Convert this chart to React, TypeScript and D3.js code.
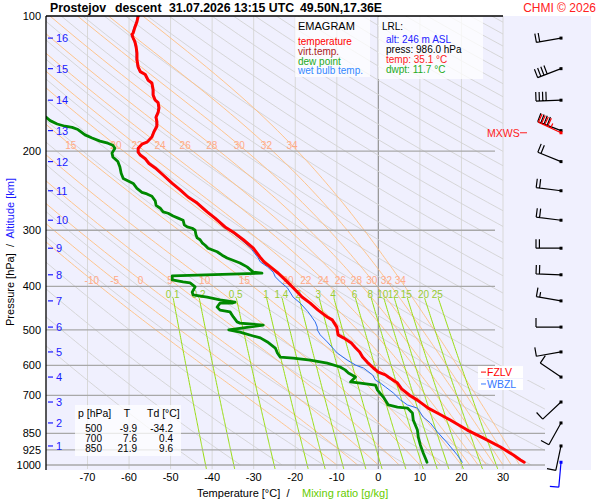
import * as d3 from 'd3';

const FONT = 'Liberation Sans, Arial, Helvetica, sans-serif';

// axis / grid values
const pressureTicks = [100, 200, 300, 400, 500, 600, 700, 850, 925, 1000];
const temperatureTicks = [-70, -60, -50, -40, -30, -20, -10, 0, 10, 20, 30];
const mixingRatios = [0.1, 0.2, 0.5, 1, 1.4, 2, 3, 4, 6, 8, 10, 12, 15, 20, 25];
const moistAdiabats = [-10, -5, 0, 5, 10, 15, 20, 22, 24, 26, 28, 30, 32, 34];
const heightKm = [1, 2, 3, 4, 5, 6, 7, 8, 9, 10, 11, 12, 13, 14, 15, 16];
const heightP = [907, 806, 724, 637, 560, 493, 431, 377, 329, 285, 245, 211, 180, 154, 131, 112];

// sounding: [pressure hPa, °C]
const temperature: [number, number][] = [
  [986, 35.1], [975, 34.2], [950, 32.5], [912, 29.4], [871, 25.3], [836, 21.4],
  [794, 17.3], [766, 14.2], [747, 12.0], [717, 9.4], [700, 7.6], [677, 5.6],
  [657, 4.6], [637, 2.4], [630, 1.7], [621, 0.0], [608, -1.2], [590, -2.7],
  [575, -3.8], [560, -4.5], [548, -5.5], [535, -6.5], [521, -8.4], [513, -9.7],
  [500, -9.9], [493, -10.0], [475, -11.1], [468, -12.3], [452, -14.5], [436, -16.4],
  [423, -18.3], [403, -20.5], [387, -22.4], [374, -24.1], [362, -26.0], [353, -27.5],
  [346, -28.3], [329, -30.1], [315, -32.5], [303, -34.9], [295, -36.9], [282, -39.3],
  [273, -41.2], [261, -43.6], [253, -45.8], [244, -47.7], [236, -49.6], [226, -51.8],
  [218, -53.7], [213, -55.2], [208, -56.1], [204, -57.3], [201, -57.8], [197, -57.8],
  [193, -56.9], [191, -55.7], [186, -54.5], [181, -54.0], [176, -53.3], [172, -53.3],
  [168, -53.5], [164, -53.0], [160, -52.8], [156, -53.0], [154, -53.7], [150, -54.2],
  [146, -54.2], [141, -54.5], [139, -55.4], [135, -56.1], [133, -57.3], [130, -57.8],
  [125, -58.1], [121, -58.1], [117, -58.3], [114, -58.6], [112, -59.0], [110, -59.3],
  [109, -59.0], [106, -58.6], [103, -58.1], [100, -57.8],
];

const dewPoint: [number, number][] = [
  [986, 11.7], [975, 11.5], [940, 10.8], [902, 10.1], [866, 9.6], [836, 9.4],
  [794, 8.4], [766, 8.2], [747, 7.0], [743, 4.6], [735, 2.4], [706, 1.2],
  [681, -0.2], [664, -0.7], [657, -4.3], [653, -6.7], [637, -5.5], [624, -7.2],
  [614, -8.0], [605, -9.2], [593, -12.3], [584, -16.4], [578, -20.5], [575, -23.6],
  [563, -24.3], [549, -24.8], [532, -26.7], [521, -28.4], [516, -30.1], [506, -33.3],
  [500, -36.0], [488, -27.7], [483, -33.3], [480, -34.0], [468, -34.9], [456, -35.7],
  [452, -38.1], [445, -38.8], [436, -38.1], [436, -35.2], [434, -34.5], [429, -38.1],
  [423, -41.2], [418, -44.6], [412, -44.8], [401, -44.1], [393, -45.3], [391, -47.0],
  [387, -49.6], [379, -49.6], [374, -28.0], [372, -30.1], [362, -31.6], [355, -33.3],
  [346, -36.4], [341, -37.6], [335, -38.8], [329, -41.0], [324, -41.7], [320, -42.4],
  [315, -42.9], [312, -43.6], [307, -43.9], [300, -44.1], [297, -44.8], [295, -46.0],
  [292, -46.7], [285, -47.0], [282, -48.2], [279, -49.4], [275, -50.6], [273, -51.8],
  [268, -52.5], [264, -53.5], [258, -53.7], [252, -54.5], [249, -55.7], [247, -56.9],
  [242, -58.1], [236, -59.0], [233, -60.2], [230, -61.4], [224, -61.9], [217, -62.2],
  [211, -62.7], [206, -63.9], [202, -64.1], [197, -63.4], [194, -63.9], [192, -65.1],
  [190, -67.0], [187, -68.9], [184, -70.6], [179, -72.3], [177, -73.7], [176, -75.4],
  [174, -77.3], [171, -79.0], [168, -80.0], [160, -84.0],
];

const wetBulb: [number, number][] = [
  [986, 20.2], [950, 19.0], [893, 16.6], [844, 14.2], [806, 12.5], [782, 10.8],
  [747, 9.4], [735, 7.0], [716, 5.3], [691, 3.6], [670, 1.7], [657, 0.5],
  [647, -0.7], [630, -1.4], [608, -3.6], [599, -5.5], [584, -7.5], [563, -9.9],
  [532, -12.3], [513, -14.0], [500, -14.7], [493, -14.7], [480, -15.2], [456, -16.9],
  [436, -18.8], [423, -20.5], [403, -21.9], [391, -23.6], [381, -24.8], [372, -25.3],
  [362, -26.7], [353, -28.4], [346, -28.9], [329, -30.7], [315, -33.0], [303, -35.3],
  [295, -37.3], [282, -39.6], [273, -41.5], [261, -43.9], [253, -46.0], [244, -47.9],
  [236, -49.8], [226, -52.0], [218, -53.9], [213, -55.4], [208, -56.3], [204, -57.5],
  [201, -58.0], [197, -58.0], [193, -57.1], [191, -55.9], [186, -54.7], [181, -54.2],
  [176, -53.5], [172, -53.5], [168, -53.7], [164, -53.2], [160, -53.0], [156, -53.2],
  [154, -53.9], [150, -54.4], [146, -54.4], [141, -54.7], [139, -55.6], [135, -56.3],
  [133, -57.5], [130, -58.0], [125, -58.3], [121, -58.3], [117, -58.5], [114, -58.8],
  [112, -59.2], [110, -59.5], [109, -59.2], [106, -58.8], [103, -58.3], [100, -58.0],
];

// winds at the km levels (direction deg, speed kt)
const windDir = [192, 209, 227, 304, 260, 270, 280, 272, 270, 277, 277, 292, 291, 268, 249, 260];
const windKt = [10, 10, 10, 10, 10, 10, 15, 20, 20, 20, 20, 20, 40, 40, 40, 20];
const surfaceWind = { p: 986, dir: 185, kt: 10 };
const maxWind = { p: 182, dir: 295, kt: 45 };
const freezingLevelP = 621;
const wetBulbZeroP = 660;

const tableRows = [
  ['500', '-9.9', '-34.2'],
  ['700', '7.6', '0.4'],
  ['850', '21.9', '9.6'],
];

// thermodynamics for the background lines
const Rd = 287.04;
const Cp = 1005.7;
const Lv = 2.501e6;
const EPS = 0.622;
const esat = (tc: number) => 6.112 * Math.exp((17.67 * tc) / (tc + 243.5));
const moistLapse = (tk: number, p: number) => {
  const e = esat(tk - 273.15);
  const ws = (EPS * e) / (p - e);
  return (Rd * tk + Lv * ws) / (p * (Cp + (Lv * Lv * ws * EPS) / (Rd * tk * tk)));
};
const moistCurve = (tw: number) => {
  const pts: [number, number][] = [];
  let t = tw + 273.15;
  for (let p = 1000; p >= 100; p -= 5) {
    pts.push([p, t - 273.15]);
    const k1 = moistLapse(t, p);
    const k2 = moistLapse(t - k1 * 5, p - 5);
    t -= ((k1 + k2) / 2) * 5;
  }
  return pts;
};
const dryCurve = (theta: number) =>
  d3.range(1000, 99, -10).map((p) => [p, theta * Math.pow(p / 1000, 0.2857) - 273.15] as [number, number]);
const mixingTd = (w: number, p: number) => {
  const l = Math.log((w * p) / (622 + w) / 6.112);
  return (243.5 * l) / (17.67 - l);
};
const tAt = (pts: [number, number][], p: number) => {
  for (let i = 0; i < pts.length - 1; i++) {
    if (pts[i][0] >= p && pts[i + 1][0] <= p) {
      const f = (pts[i][0] - p) / (pts[i][0] - pts[i + 1][0]);
      return pts[i][1] + f * (pts[i + 1][1] - pts[i][1]);
    }
  }
  return NaN;
};

const barbPath = (cx: number, cy: number, dir: number, kt: number) => {
  const r = (dir * Math.PI) / 180;
  const dx = Math.sin(r);
  const dy = -Math.cos(r);
  const ex = cx + dx * 25;
  const ey = cy + dy * 25;
  let d = `M${cx},${cy}L${ex},${ey}`;
  const px = -dy;
  const py = dx;
  let pos = 0;
  for (let i = 0; i < Math.floor(kt / 10); i++) {
    const bx = ex - dx * pos;
    const by = ey - dy * pos;
    d += `M${bx},${by}l${px * 9},${py * 9}`;
    pos += 3.4;
  }
  if (kt % 10 >= 5) {
    const bx = ex - dx * pos;
    const by = ey - dy * pos;
    d += `M${bx},${by}l${px * 5},${py * 5}`;
  }
  return d;
};

export default function App() {
  const x = d3.scaleLinear().domain([-70, 30]).range([87.5, 503]);
  const y = d3.scaleLog().domain([100, 1000]).range([16, 465]);
  const line = d3
    .line<[number, number]>()
    .x((d) => x(d[1]))
    .y((d) => y(d[0]));

  const moist = moistAdiabats.map((tw) => ({ tw, pts: moistCurve(tw) }));
  const dry = d3.range(230, 620, 10).map((th) => dryCurve(th));
  const barbX = 561;

  return (
    <svg
      width={600}
      height={500}
      style={{ position: 'absolute', left: 0, top: 0, background: '#fff' }}
      fontFamily={FONT}
    >
      <defs>
        <clipPath id="grid">
          <path d="M46,16H503V380H545V469H46Z" />
        </clipPath>
        <clipPath id="plot">
          <rect x={46} y={16} width={545} height={453} />
        </clipPath>
      </defs>

      <rect x={46} y={16} width={545} height={454} fill="#f0f0fe" />

      {/* isotherms */}
      {temperatureTicks.map((t) => (
        <line
          key={t}
          x1={x(t)}
          x2={x(t)}
          y1={16}
          y2={469}
          stroke={t === 0 ? '#999' : '#d8d8d8'}
          strokeWidth={t === 0 ? 1.3 : 1}
        />
      ))}

      <g clipPath="url(#grid)" fill="none">
        {dry.map((pts, i) => (
          <path key={i} d={line(pts) ?? ''} stroke="#d2d2d2" strokeWidth={0.9} />
        ))}
        {moist.map((m) => (
          <path key={m.tw} d={line(m.pts) ?? ''} stroke="#ffc080" strokeWidth={0.9} />
        ))}
        {mixingRatios.map((w) => (
          <path
            key={w}
            d={line(d3.range(1025, 420, -5).map((p) => [p, mixingTd(w, p)] as [number, number])) ?? ''}
            stroke="#99dd11"
            strokeWidth={1}
          />
        ))}
      </g>

      {/* isobars */}
      {pressureTicks.slice(1).map((p) => (
        <line
          key={p}
          x1={46}
          x2={p >= 850 ? 545 : 495}
          y1={y(p)}
          y2={y(p)}
          stroke="#a8a8a8"
          strokeWidth={1.3}
        />
      ))}

      {/* moist adiabat labels */}
      <g fontSize={10} fill="#ffaa88" textAnchor="middle">
        {moist
          .filter((m) => x(tAt(m.pts, 194)) > 60)
          .map((m) => (
            <text key={'a' + m.tw} x={x(tAt(m.pts, 194))} y={149}>
              {m.tw}
            </text>
          ))}
        {moist.map((m) => (
          <text key={'b' + m.tw} x={x(tAt(m.pts, 387))} y={284}>
            {m.tw}
          </text>
        ))}
      </g>
      <g fontSize={10} fill="#99cc33" textAnchor="middle">
        {mixingRatios.map((w) => (
          <text key={w} x={x(mixingTd(w, 418))} y={298}>
            {w}
          </text>
        ))}
      </g>

      {/* profiles */}
      <g clipPath="url(#plot)" fill="none" strokeLinejoin="round" strokeLinecap="round">
        <path d={line(dewPoint) ?? ''} stroke="#008800" strokeWidth={2.8} />
        <path d={line(wetBulb) ?? ''} stroke="#2a6df0" strokeWidth={1} />
        <path d={line(temperature) ?? ''} stroke="#ff0000" strokeWidth={3} />
      </g>

      {/* frame */}
      <line x1={46} x2={503} y1={16} y2={16} stroke="#000" strokeWidth={1.3} />
      <line x1={46} x2={46} y1={16} y2={470} stroke="#000" strokeWidth={1.3} />

      {/* pressure labels */}
      <g fontSize={11} textAnchor="end">
        {pressureTicks.map((p) => (
          <text key={p} x={41} y={y(p) + 4}>
            {p}
          </text>
        ))}
      </g>
      {/* altitude labels */}
      <g fontSize={11} fill="#1a1aff">
        {heightKm.map((h, i) => (
          <g key={h}>
            <line x1={48} x2={53} y1={y(heightP[i])} y2={y(heightP[i])} stroke="#1a1aff" strokeWidth={1.2} />
            <text x={56} y={y(heightP[i]) + 4}>
              {h}
            </text>
          </g>
        ))}
      </g>
      {/* temperature labels */}
      <g fontSize={11} textAnchor="middle">
        {temperatureTicks.map((t) => (
          <text key={t} x={x(t)} y={481}>
            {t}
          </text>
        ))}
      </g>

      <text fontSize={11} y={497} xmlSpace="preserve">
        <tspan x={197}>Temperature [°C]  /</tspan>
        <tspan x={302} fill="#66cc00">
          Mixing ratio [g/kg]
        </tspan>
      </text>
      <text fontSize={11} transform="translate(14,252) rotate(-90)" textAnchor="middle" xmlSpace="preserve">
        Pressure [hPa]  /  <tspan fill="#1a1aff">Altitude [km]</tspan>
      </text>

      {/* title */}
      <g fontSize={12.3} fontWeight="bold">
        <text x={50} y={12}>Prostejov</text>
        <text x={115} y={12}>descent</text>
        <text x={169} y={12}>31.07.2026 13:15 UTC</text>
        <text x={300} y={12}>49.50N,17.36E</text>
      </g>
      <text x={596} y={12} fontSize={12} fill="#ff2020" textAnchor="end">
        CHMI © 2026
      </text>

      {/* legend */}
      <rect x={295} y={17} width={75} height={60} fill="#fff" fillOpacity={0.75} />
      <g fontSize={10}>
        <text x={298} y={30} fontSize={11}>EMAGRAM</text>
        <text x={298} y={45} fill="#ff0000">temperature</text>
        <text x={298} y={55} fill="#aa2222">virt.temp.</text>
        <text x={298} y={64.5} fill="#22aa22">dew point</text>
        <text x={298} y={74} fill="#3388ff">wet bulb temp.</text>
      </g>
      <rect x={378} y={17} width={105} height={62} fill="#fff" fillOpacity={0.75} />
      <g fontSize={10}>
        <text x={382} y={30}>LRL:</text>
        <text x={386} y={42.5} fill="#2222ff">alt: 246 m ASL</text>
        <text x={386} y={53}>press: 986.0 hPa</text>
        <text x={386} y={63} fill="#ff2020">temp: 35.1 °C</text>
        <text x={386} y={72.5} fill="#22aa22">dwpt: 11.7 °C</text>
      </g>

      {/* table */}
      <rect x={75} y={405} width={106} height={51} fill="#fff" fillOpacity={0.75} />
      <g fontSize={10}>
        <text x={78} y={417} fontSize={10.5}>p [hPa]</text>
        <text x={127} y={417} fontSize={10.5} textAnchor="middle">T</text>
        <text x={147} y={417} fontSize={10.5}>Td [°C]</text>
        {tableRows.map((r, i) => (
          <g key={r[0]} textAnchor="end">
            <text x={102} y={432 + i * 10}>{r[0]}</text>
            <text x={137} y={432 + i * 10}>{r[1]}</text>
            <text x={173} y={432 + i * 10}>{r[2]}</text>
          </g>
        ))}
      </g>

      {/* level markers */}
      <g fontSize={10.5}>
        <rect x={478} y={y(freezingLevelP) - 6} width={45} height={12} fill="#fff" />
        <line x1={481} x2={486} y1={y(freezingLevelP)} y2={y(freezingLevelP)} stroke="#ff0000" />
        <text x={487} y={y(freezingLevelP) + 4} fill="#ff0000">FZLV</text>
        <rect x={478} y={y(wetBulbZeroP) - 5} width={45} height={11} fill="#fff" />
        <line x1={481} x2={486} y1={y(wetBulbZeroP)} y2={y(wetBulbZeroP)} stroke="#3377ff" />
        <text x={487} y={y(wetBulbZeroP) + 4} fill="#3377ff">WBZL</text>
        <text x={487} y={y(maxWind.p) + 4} fill="#ff2020">MXWS</text>
        <line x1={520} x2={527} y1={y(maxWind.p)} y2={y(maxWind.p)} stroke="#ff2020" />
      </g>

      {/* wind barbs */}
      <g fill="none" strokeWidth={1.2}>
        {heightKm.map((h, i) => (
          <g key={h}>
            <path d={barbPath(barbX, y(heightP[i]), windDir[i], windKt[i])} stroke="#000" />
            <rect x={barbX - 1.5} y={y(heightP[i]) - 1.5} width={3} height={3} fill="#000" />
          </g>
        ))}
        <path d={barbPath(barbX, y(maxWind.p), maxWind.dir, maxWind.kt)} stroke="#ff0000" />
        <rect x={barbX - 1.5} y={y(maxWind.p) - 1.5} width={3} height={3} fill="#ff0000" />
        <path d={barbPath(barbX, y(surfaceWind.p), surfaceWind.dir, surfaceWind.kt)} stroke="#0000ff" />
        <rect x={barbX - 1.5} y={y(surfaceWind.p) - 1.5} width={3} height={3} fill="#0000ff" />
      </g>
    </svg>
  );
}
